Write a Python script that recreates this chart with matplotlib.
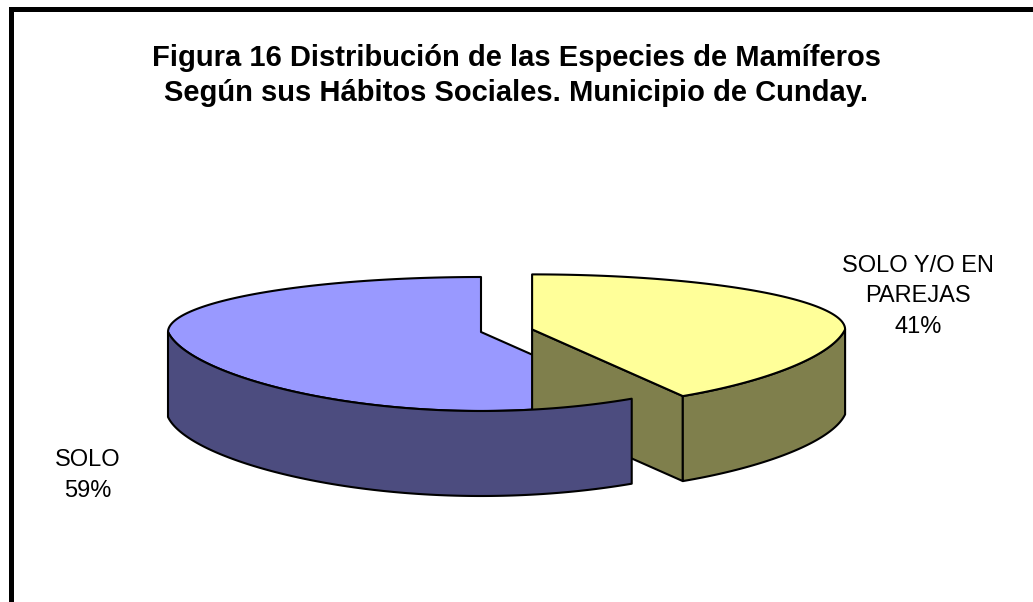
import numpy as np
import matplotlib
matplotlib.use("Agg")
import matplotlib.pyplot as plt
from matplotlib.patches import Polygon

# data
labels = ["SOLO Y/O EN\nPAREJAS", "SOLO"]
values = [41, 59]
top_colors = ["#FFFF99", "#9999FF"]
side_colors = ["#7F7F4C", "#4C4C7F"]
explode = [0.17, 0.0]

title = ("Figura 16 Distribución de las Especies de Mamíferos\n"
         "Según sus Hábitos Sociales. Municipio de Cunday.")

plt.rcParams['font.family'] = ['Liberation Sans', 'DejaVu Sans']

W, H = 1033, 602
fig = plt.figure(figsize=(W / 100, H / 100), dpi=100)
ax = fig.add_axes([0, 0, 1, 1])
ax.set_xlim(0, W)
ax.set_ylim(H, 0)
ax.axis("off")

# pie geometry (pixel units, y down)
cx, cy = 481, 332
a = 313
b_back, b_front = 55, 79
depth = 85
squeeze = 0.12  # slight narrowing of the front half, like excel's view


def rim(theta, ox, oy):
    # theta in degrees, clockwise from 12 o'clock
    t = np.radians(theta)
    c = np.cos(t)
    b = np.where(c > 0, b_back, b_front)
    k = 1 - squeeze * np.clip(-c, 0, None)
    return ox + a * np.sin(t) * k, oy - b * c


total = float(sum(values))
starts = np.cumsum([0] + values[:-1]) / total * 360
ends = np.cumsum(values) / total * 360

slices = []
for i in range(len(values)):
    mid = np.radians((starts[i] + ends[i]) / 2)
    bm = b_back if np.cos(mid) > 0 else b_front
    ox = cx + explode[i] * a * np.sin(mid)
    oy = cy - explode[i] * bm * np.cos(mid)
    slices.append((starts[i], ends[i], ox, oy))

ec = dict(edgecolor="black", linewidth=1.5, joinstyle="round")


def top_face(i):
    s, e, ox, oy = slices[i]
    th = np.linspace(s, e, 200)
    x, y = rim(th, ox, oy)
    pts = np.column_stack([np.r_[ox, x], np.r_[oy, y]])
    return Polygon(pts, closed=True, facecolor=top_colors[i], **ec)


def outer_side(i):
    s, e, ox, oy = slices[i]
    lo, hi = max(s, 90), min(e, 270)
    if lo >= hi:
        return None
    th = np.linspace(lo, hi, 200)
    x, y = rim(th, ox, oy)
    pts = np.column_stack([np.r_[x, x[::-1]], np.r_[y, y[::-1] + depth]])
    return Polygon(pts, closed=True, facecolor=side_colors[i], **ec)


def end_face(i):
    s, e, ox, oy = slices[i]
    x, y = rim(e, ox, oy)
    pts = [(ox, oy), (x, y), (x, y + depth), (ox, oy + depth)]
    return Polygon(pts, closed=True, facecolor=side_colors[i], **ec)


# painter's order
ax.add_patch(top_face(1))
ax.add_patch(end_face(0))
ax.add_patch(outer_side(1))
ax.add_patch(outer_side(0))
ax.add_patch(top_face(0))

# labels (y = baseline of last line)
ax.text(918, 333, f"{labels[0]}\n{values[0]}%", ha="center", va="baseline",
        fontsize=17, linespacing=1.5, multialignment="center")
ax.text(88, 497, f"{labels[1]}\n{values[1]}%", ha="center", va="baseline",
        fontsize=17, linespacing=1.5, multialignment="center")

# title
ax.text(516, 101, title, ha="center", va="baseline", fontsize=21,
        fontweight="bold", linespacing=1.33, multialignment="center")

# frame (only top and left edges visible)
ax.plot([10.5, 10.5, W + 5], [H + 5, 8.5, 8.5], color="black", lw=3.6,
        solid_joinstyle="miter", clip_on=False)

fig.savefig("out.png", dpi=100)
